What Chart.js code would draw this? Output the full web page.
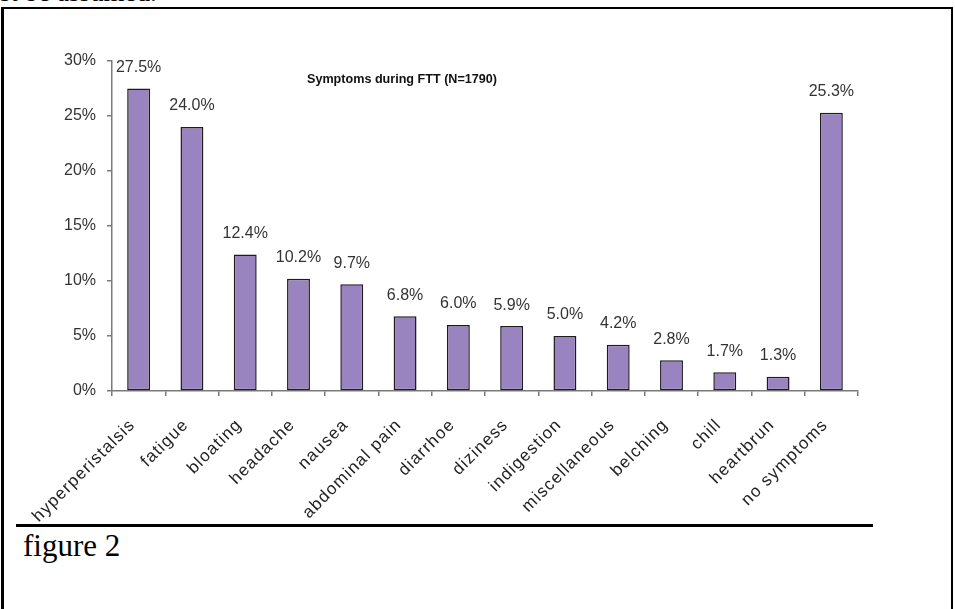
<!DOCTYPE html>
<html>
<head>
<meta charset="utf-8">
<script src="https://cdn.jsdelivr.net/npm/chart.js@4.4.0/dist/chart.umd.min.js"></script>
<style>
  html, body { margin: 0; padding: 0; background: #fff; }
  body { width: 955px; height: 609px; position: relative; overflow: hidden; }
  #toptext { position: absolute; left: 0; top: -21px; font: 27px "Liberation Serif", "Times New Roman", serif; line-height: 27px; color: #000; }
  #box { position: absolute; left: 1px; top: 7px; width: 947px; height: 700px; border: 2px solid #000; border-left-width: 3px; }
  #rule { position: absolute; left: 16px; top: 524px; width: 857px; height: 3px; background: #000; }
  #fig { position: absolute; left: 23px; top: 529px; font: 31px "Liberation Serif", "Times New Roman", serif; line-height: 34px; color: #000; }
  #wrap { position: absolute; left: 0; top: 0; width: 955px; height: 609px; }
</style>
</head>
<body>
<div id="toptext">st be assumed.</div>
<div id="box"></div>
<div id="rule"></div>
<div id="fig">figure 2</div>
<div id="wrap"><canvas id="c" width="955" height="609"></canvas></div>
<script>
const categories = ["hyperperistalsis", "fatigue", "bloating", "headache", "nausea", "abdominal pain", "diarrhoe", "diziness", "indigestion", "miscellaneous", "belching", "chill", "heartbrun", "no symptoms"];
const percentValues = [27.5, 24.0, 12.4, 10.2, 9.7, 6.8, 6.0, 5.9, 5.0, 4.2, 2.8, 1.7, 1.3, 25.3];
const yTicks = [0, 5, 10, 15, 20, 25, 30];
const chartTitle = "Symptoms during FTT (N=1790)";

const FONT = "'Liberation Sans', Arial, sans-serif";

const labelPlugin = {
  id: 'valueLabels',
  afterDatasetsDraw(chart) {
    const ctx = chart.ctx;
    const meta = chart.getDatasetMeta(0);
    ctx.save();
    ctx.font = "16px " + FONT;
    ctx.fillStyle = "#333";
    ctx.textAlign = "center";
    ctx.textBaseline = "middle";
    meta.data.forEach((bar, i) => {
      ctx.fillText(percentValues[i].toFixed(1) + "%", bar.x, bar.y - 21);
    });
    ctx.restore();
  }
};

const titlePlugin = {
  id: 'innerTitle',
  afterDraw(chart) {
    const ctx = chart.ctx;
    const a = chart.chartArea;
    ctx.save();
    ctx.font = "bold 12.6px " + FONT;
    ctx.fillStyle = "#111";
    ctx.textAlign = "left";
    ctx.textBaseline = "middle";
    ctx.fillText(chartTitle, a.left + 195, a.top + 19);
    ctx.restore();
  }
};

new Chart(document.getElementById('c'), {
  type: 'bar',
  data: {
    labels: categories,
    datasets: [{
      data: percentValues,
      backgroundColor: '#9a84c0',
      borderColor: '#1c1c1c',
      borderWidth: 1.5,
      borderSkipped: false,
      categoryPercentage: 1,
      barPercentage: 0.43
    }]
  },
  options: {
    responsive: false,
    animation: false,
    devicePixelRatio: 1,
    layout: { padding: { left: 10, right: 97, top: 61, bottom: 18 } },
    plugins: { legend: { display: false }, tooltip: { enabled: false }, title: { display: false } },
    scales: {
      x: {
        offset: true,
        afterFit(s) { s.height = 200; },
        afterUpdate(s) {
          if (!s._spacedLabels) {
            const orig = s.drawLabels;
            s.drawLabels = function (area) {
              this.ctx.save();
              this.ctx.letterSpacing = '1.2px';
              orig.call(this, area);
              this.ctx.restore();
            };
            s._spacedLabels = true;
          }
        },
        grid: { drawOnChartArea: false, drawTicks: true, tickLength: 5, color: '#7a7a7a', lineWidth: 1.5, offset: true },
        border: { color: '#7a7a7a', width: 1.5 },
        ticks: { maxRotation: 45, minRotation: 45, autoSkip: false, padding: 19, labelOffset: -6, color: '#222', font: { family: FONT, size: 17 } }
      },
      y: {
        min: 0, max: 30,
        afterFit(s) { s.width = 102; },
        afterBuildTicks(s) { s.ticks = yTicks.map(v => ({ value: v })); },
        grid: { drawOnChartArea: false, drawTicks: true, tickLength: 5, color: '#7a7a7a', lineWidth: 1.5 },
        border: { color: '#7a7a7a', width: 1.5 },
        ticks: { padding: 11, color: '#333', font: { family: FONT, size: 16 }, callback: v => v + '%' }
      }
    }
  },
  plugins: [labelPlugin, titlePlugin]
});
</script>
</body>
</html>
